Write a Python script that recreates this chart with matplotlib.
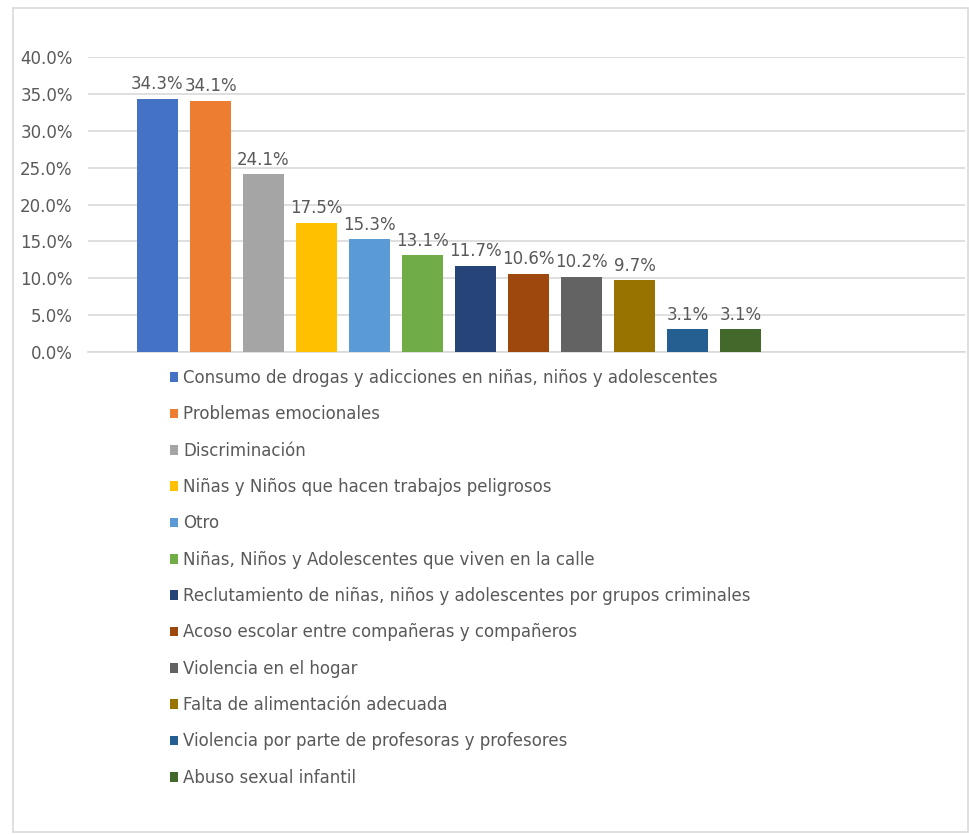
import matplotlib
matplotlib.use("Agg")
import matplotlib.pyplot as plt
from matplotlib.patches import Rectangle

# Data
categories = [
    "Consumo de drogas y adicciones en niñas, niños y adolescentes",
    "Problemas emocionales",
    "Discriminación",
    "Niñas y Niños que hacen trabajos peligrosos",
    "Otro",
    "Niñas, Niños y Adolescentes que viven en la calle",
    "Reclutamiento de niñas, niños y adolescentes por grupos criminales",
    "Acoso escolar entre compañeras y compañeros",
    "Violencia en el hogar",
    "Falta de alimentación adecuada",
    "Violencia por parte de profesoras y profesores",
    "Abuso sexual infantil",
]
values = [34.3, 34.1, 24.1, 17.5, 15.3, 13.1, 11.7, 10.6, 10.2, 9.7, 3.1, 3.1]
colors = ["#4472C4", "#ED7D31", "#A5A5A5", "#FFC000", "#5B9BD5", "#70AD47",
          "#264478", "#9E480E", "#636363", "#997300", "#255E91", "#43682B"]
yticks = [0, 5, 10, 15, 20, 25, 30, 35, 40]

plt.rcParams['font.family'] = ['DejaVu Sans']
text_color = "#595959"
fs = 12

W, H = 969, 835
fig = plt.figure(figsize=(W / 100, H / 100), dpi=100)

# Plot area placed in pixels (from the reference)
left, right, top, bottom = 88, 965, 57, 352
ax = fig.add_axes([left / W, 1 - bottom / H, (right - left) / W, (bottom - top) / H])

bars = []
for i, (v, c, name) in enumerate(zip(values, colors, categories)):
    b = ax.bar(i, v, width=0.79, color=c, label=name, zorder=3)
    bars.append(b)
    ax.annotate(f"{v:.1f}%", (i, v), textcoords="offset points", xytext=(0, 4),
                ha="center", va="bottom", fontsize=fs, color=text_color)

# Category slot layout: first bar centre at 157px, spacing 53px
ax.set_xlim((left - 157.5) / 53, (right - 157.5) / 53)
ax.set_ylim(0, 40)
ax.set_yticks(yticks)
ax.set_yticklabels([f"{t:.1f}%" for t in yticks], fontsize=fs, color=text_color)
ax.set_xticks([])
ax.tick_params(axis="y", length=0, pad=11)
ax.yaxis.grid(True, color="#D9D9D9", linewidth=1.2, zorder=0)
for s in ["top", "right", "left"]:
    ax.spines[s].set_visible(False)
ax.spines["bottom"].set_color("#D9D9D9")
ax.spines["bottom"].set_linewidth(1.2)

# Legend: one entry per row below the plot
leg = fig.legend(handles=[b[0] for b in bars], labels=categories,
                 loc="upper left", bbox_to_anchor=(170 / W, 1 - 369 / H),
                 ncol=1, frameon=False, fontsize=fs, labelcolor=text_color,
                 handlelength=0.5, handleheight=0.5, handletextpad=0.3,
                 labelspacing=1.1, borderaxespad=0, borderpad=0)

# Chart area border
fig.patches.append(Rectangle((13 / W, 3 / H), (968 - 13) / W, (827 - 3) / H,
                             transform=fig.transFigure, fill=False,
                             edgecolor="#D9D9D9", linewidth=1.2))

plt.savefig("out.png", dpi=100)
